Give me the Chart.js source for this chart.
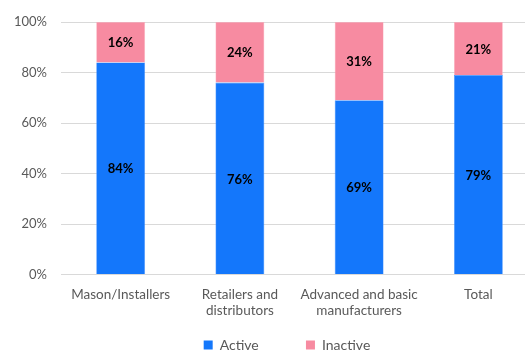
<!DOCTYPE html>
<html>
<head>
<meta charset="utf-8">
<script src="https://cdn.jsdelivr.net/npm/chart.js@4/dist/chart.umd.min.js"></script>
<style>
  html, body { margin: 0; padding: 0; background: #fff; }
  #wrap { width: 525px; height: 352px; overflow: hidden; }
</style>
</head>
<body>
<div id="wrap"><canvas id="c" width="540" height="352"></canvas></div>
<script>
// Share of firms by segment
const categories = [["Mason/Installers"], ["Retailers and", "distributors"], ["Advanced and basic", "manufacturers"], ["Total"]];
const activeShare = [84, 76, 69, 79];
const inactiveShare = [16, 24, 31, 21];
const yTicks = [0, 20, 40, 60, 80, 100];

const FONT = "Lato, 'Open Sans', 'Liberation Sans', sans-serif";

// Writes each segment's percentage in its middle
const segmentLabels = {
  id: 'segmentLabels',
  afterDatasetsDraw(chart) {
    const ctx = chart.ctx;
    ctx.save();
    ctx.font = "bold 13px " + FONT;
    ctx.fillStyle = '#000';
    ctx.textAlign = 'center';
    ctx.textBaseline = 'middle';
    chart.data.datasets.forEach((ds, i) => {
      const meta = chart.getDatasetMeta(i);
      meta.data.forEach((bar, j) => {
        const mid = (bar.y + bar.base) / 2;
        ctx.fillText(ds.data[j] + '%', bar.x, mid + 1);
      });
    });
    ctx.restore();
  }
};

new Chart(document.getElementById('c'), {
  type: 'bar',
  data: {
    labels: categories,
    datasets: [
      { label: 'Active', data: activeShare, backgroundColor: '#1477fb', borderColor: '#4d95fb', borderWidth: 0.6, barPercentage: 0.41, categoryPercentage: 1 },
      { label: 'Inactive', data: inactiveShare, backgroundColor: '#f78ba1', borderColor: '#fab0bf', borderWidth: 0.6, barPercentage: 0.41, categoryPercentage: 1 }
    ]
  },
  options: {
    responsive: false,
    animation: false,
    layout: { padding: { top: 22, right: 2, left: 0, bottom: -10 } },
    plugins: {
      legend: {
        position: 'bottom',
        fullSize: false,
        labels: {
          boxWidth: 9, boxHeight: 9, padding: 15,
          color: '#595959',
          font: { family: FONT, size: 14 },
          generateLabels(chart) {
            return chart.data.datasets.map((ds, i) => ({
              text: i === 0 ? ds.label + '         ' : ds.label + '       ',
              fillStyle: ds.backgroundColor, strokeStyle: ds.backgroundColor,
              lineWidth: 0, datasetIndex: i, fontColor: '#595959'
            }));
          }
        }
      },
      tooltip: { enabled: false }
    },
    scales: {
      x: {
        stacked: true,
        grid: { display: false },
        border: { display: false },
        ticks: { color: '#595959', font: { family: FONT, size: 13.5 }, maxRotation: 0, autoSkip: false, padding: 4 }
      },
      y: {
        stacked: true,
        min: 0, max: 100,
        afterBuildTicks(scale) { scale.ticks = yTicks.map(v => ({ value: v })); },
        grid: { color: '#d9d9d9', lineWidth: 1, drawTicks: false },
        border: { display: false },
        ticks: { color: '#595959', font: { family: FONT, size: 13 }, padding: 14, callback: v => v + '%' }
      }
    }
  },
  plugins: [segmentLabels]
});
</script>
</body>
</html>
